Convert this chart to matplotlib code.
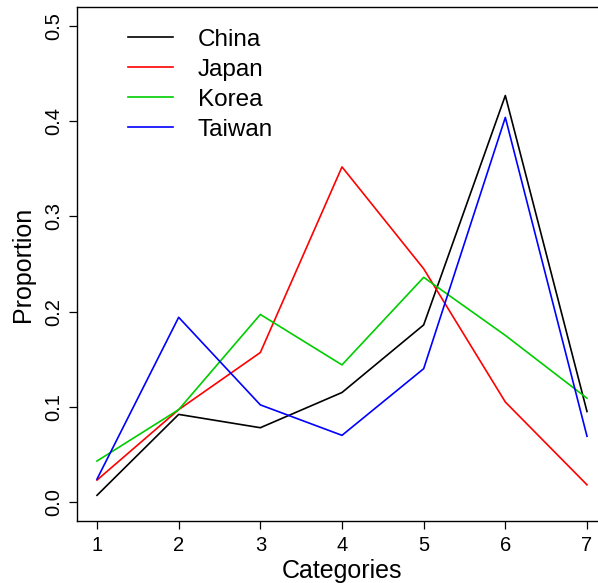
import matplotlib
matplotlib.use("Agg")
import matplotlib.pyplot as plt

plt.rcParams['font.family'] = ['Liberation Sans', 'DejaVu Sans']

categories = [1, 2, 3, 4, 5, 6, 7]
china = [0.007, 0.092, 0.078, 0.115, 0.186, 0.427, 0.095]
japan = [0.023, 0.097, 0.157, 0.352, 0.245, 0.105, 0.018]
korea = [0.043, 0.097, 0.197, 0.144, 0.236, 0.175, 0.109]
taiwan = [0.024, 0.194, 0.102, 0.070, 0.140, 0.404, 0.069]

series = [("China", china, "black"),
          ("Japan", japan, "#FF0000"),
          ("Korea", korea, "#00CD00"),
          ("Taiwan", taiwan, "#0000FF")]

fig = plt.figure(figsize=(5.98, 5.83), dpi=100)
# axes box runs past the right edge, as in the cropped original
ax = fig.add_axes([77.4 / 598, 62 / 583, 529.2 / 598, 514 / 583])

for name, vals, col in series:
    ax.plot(categories, vals, color=col, lw=1.2, label=name)

ax.set_xlim(0.76, 7.24)
ax.set_ylim(-0.02, 0.52)
ax.set_xticks(categories)
ax.set_yticks([0.0, 0.1, 0.2, 0.3, 0.4, 0.5])
ax.set_yticklabels(["0.0", "0.1", "0.2", "0.3", "0.4", "0.5"], rotation=90, va="center")
ax.tick_params(labelsize=14.5, length=5.5, width=0.9, pad=5)
for s in ax.spines.values():
    s.set_linewidth(1.0)

ax.set_xlabel("Categories", fontsize=18, labelpad=3)
ax.set_ylabel("Proportion", fontsize=18, labelpad=6)

ax.legend(loc="upper left", bbox_to_anchor=(0.055, 1.0), frameon=False,
          fontsize=17.5, handlelength=1.85, handletextpad=1.0, labelspacing=0.33)

fig.savefig("out.png", dpi=100)
